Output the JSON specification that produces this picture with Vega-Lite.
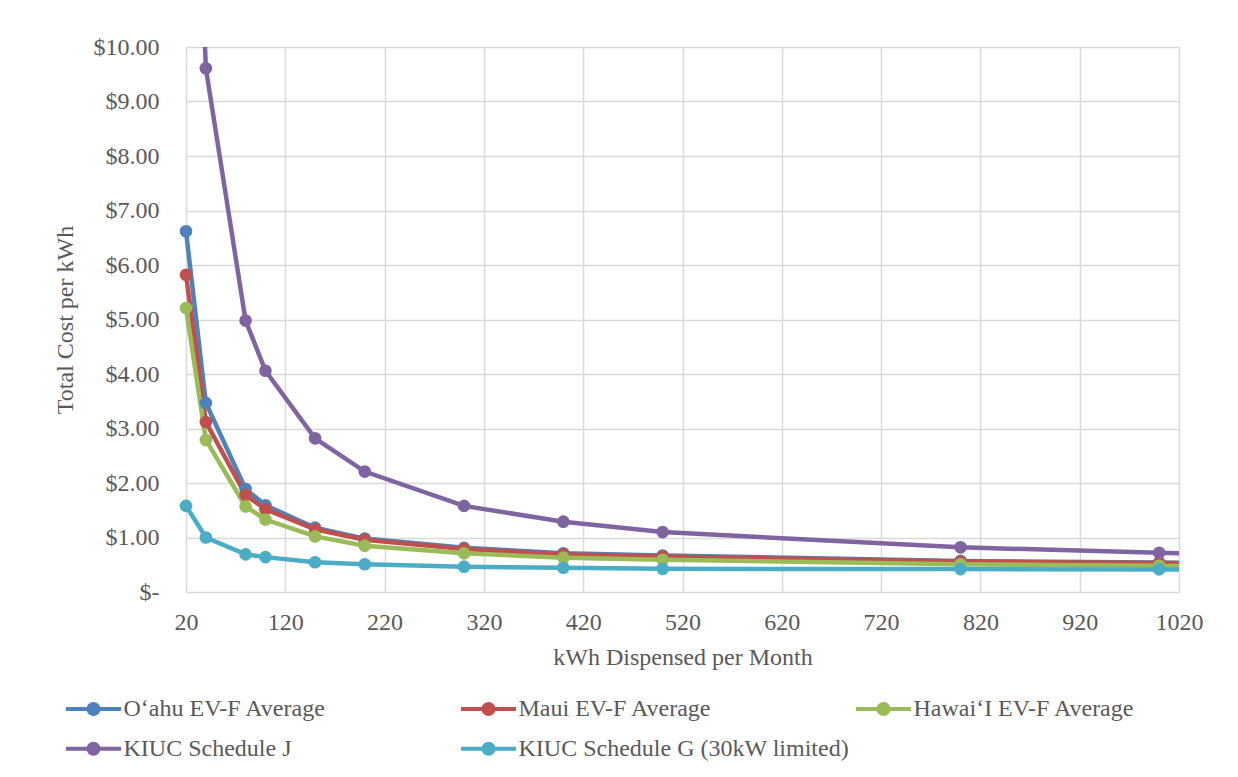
{
  "$schema": "https://vega.github.io/schema/vega-lite/v6.json",
  "width": 993,
  "height": 545,
  "autosize": "none",
  "padding": {"left": 186, "top": 47, "right": 59, "bottom": 185},
  "background": "white",
  "config": {
    "font": "Liberation Serif",
    "view": {"stroke": null},
    "axis": {
      "grid": true,
      "gridColor": "#D9D9D9",
      "gridWidth": 1.5,
      "domain": false,
      "ticks": false,
      "labelFontSize": 24,
      "labelColor": "#595959",
      "titleFontSize": 24,
      "titleColor": "#595959",
      "titleFontWeight": "normal",
      "labelFont": "Liberation Serif",
      "titleFont": "Liberation Serif"
    },
    "legend": {"labelFont": "Liberation Serif"}
  },
  "data": {
    "values": [
      {"series": "O‘ahu EV-F Average", "kwh": 20, "cost": 6.62},
      {"series": "O‘ahu EV-F Average", "kwh": 40, "cost": 3.47},
      {"series": "O‘ahu EV-F Average", "kwh": 80, "cost": 1.89},
      {"series": "O‘ahu EV-F Average", "kwh": 100, "cost": 1.59},
      {"series": "O‘ahu EV-F Average", "kwh": 150, "cost": 1.18},
      {"series": "O‘ahu EV-F Average", "kwh": 200, "cost": 0.98},
      {"series": "O‘ahu EV-F Average", "kwh": 300, "cost": 0.81},
      {"series": "O‘ahu EV-F Average", "kwh": 400, "cost": 0.71},
      {"series": "O‘ahu EV-F Average", "kwh": 500, "cost": 0.67},
      {"series": "O‘ahu EV-F Average", "kwh": 800, "cost": 0.57},
      {"series": "O‘ahu EV-F Average", "kwh": 1000, "cost": 0.54},
      {"series": "O‘ahu EV-F Average", "kwh": 1200, "cost": 0.52},
      {"series": "Maui EV-F Average", "kwh": 20, "cost": 5.82},
      {"series": "Maui EV-F Average", "kwh": 40, "cost": 3.12},
      {"series": "Maui EV-F Average", "kwh": 80, "cost": 1.78},
      {"series": "Maui EV-F Average", "kwh": 100, "cost": 1.52},
      {"series": "Maui EV-F Average", "kwh": 150, "cost": 1.15},
      {"series": "Maui EV-F Average", "kwh": 200, "cost": 0.96},
      {"series": "Maui EV-F Average", "kwh": 300, "cost": 0.79},
      {"series": "Maui EV-F Average", "kwh": 400, "cost": 0.69},
      {"series": "Maui EV-F Average", "kwh": 500, "cost": 0.65},
      {"series": "Maui EV-F Average", "kwh": 800, "cost": 0.56},
      {"series": "Maui EV-F Average", "kwh": 1000, "cost": 0.53},
      {"series": "Maui EV-F Average", "kwh": 1200, "cost": 0.51},
      {"series": "Hawai‘I EV-F Average", "kwh": 20, "cost": 5.21},
      {"series": "Hawai‘I EV-F Average", "kwh": 40, "cost": 2.79},
      {"series": "Hawai‘I EV-F Average", "kwh": 80, "cost": 1.57},
      {"series": "Hawai‘I EV-F Average", "kwh": 100, "cost": 1.33},
      {"series": "Hawai‘I EV-F Average", "kwh": 150, "cost": 1.02},
      {"series": "Hawai‘I EV-F Average", "kwh": 200, "cost": 0.85},
      {"series": "Hawai‘I EV-F Average", "kwh": 300, "cost": 0.71},
      {"series": "Hawai‘I EV-F Average", "kwh": 400, "cost": 0.63},
      {"series": "Hawai‘I EV-F Average", "kwh": 500, "cost": 0.59},
      {"series": "Hawai‘I EV-F Average", "kwh": 800, "cost": 0.51},
      {"series": "Hawai‘I EV-F Average", "kwh": 1000, "cost": 0.48},
      {"series": "Hawai‘I EV-F Average", "kwh": 1200, "cost": 0.46},
      {"series": "KIUC Schedule J", "kwh": 20, "cost": 18.9},
      {"series": "KIUC Schedule J", "kwh": 40, "cost": 9.61},
      {"series": "KIUC Schedule J", "kwh": 80, "cost": 4.98},
      {"series": "KIUC Schedule J", "kwh": 100, "cost": 4.06},
      {"series": "KIUC Schedule J", "kwh": 150, "cost": 2.82},
      {"series": "KIUC Schedule J", "kwh": 200, "cost": 2.21},
      {"series": "KIUC Schedule J", "kwh": 300, "cost": 1.58},
      {"series": "KIUC Schedule J", "kwh": 400, "cost": 1.29},
      {"series": "KIUC Schedule J", "kwh": 500, "cost": 1.1},
      {"series": "KIUC Schedule J", "kwh": 800, "cost": 0.82},
      {"series": "KIUC Schedule J", "kwh": 1000, "cost": 0.72},
      {"series": "KIUC Schedule J", "kwh": 1200, "cost": 0.64},
      {"series": "KIUC Schedule G (30kW limited)", "kwh": 20, "cost": 1.58},
      {"series": "KIUC Schedule G (30kW limited)", "kwh": 40, "cost": 1.0},
      {"series": "KIUC Schedule G (30kW limited)", "kwh": 80, "cost": 0.69},
      {"series": "KIUC Schedule G (30kW limited)", "kwh": 100, "cost": 0.64},
      {"series": "KIUC Schedule G (30kW limited)", "kwh": 150, "cost": 0.545},
      {"series": "KIUC Schedule G (30kW limited)", "kwh": 200, "cost": 0.51},
      {"series": "KIUC Schedule G (30kW limited)", "kwh": 300, "cost": 0.465},
      {"series": "KIUC Schedule G (30kW limited)", "kwh": 400, "cost": 0.445},
      {"series": "KIUC Schedule G (30kW limited)", "kwh": 500, "cost": 0.425},
      {"series": "KIUC Schedule G (30kW limited)", "kwh": 800, "cost": 0.42},
      {"series": "KIUC Schedule G (30kW limited)", "kwh": 1000, "cost": 0.415},
      {"series": "KIUC Schedule G (30kW limited)", "kwh": 1200, "cost": 0.41}
    ]
  },
  "encoding": {
    "x": {
      "field": "kwh",
      "type": "quantitative",
      "scale": {"domain": [20, 1020], "nice": false, "zero": false},
      "axis": {
        "values": [20, 120, 220, 320, 420, 520, 620, 720, 820, 920, 1020],
        "format": "d",
        "title": "kWh Dispensed per Month",
        "labelFont": "Liberation Serif",
        "titleFont": "Liberation Serif",
        "labelFlush": false,
        "labelOverlap": false,
        "labelBaseline": "middle",
        "labelPadding": 30,
        "titleY": 65,
        "titleBaseline": "middle"
      }
    },
    "y": {
      "field": "cost",
      "type": "quantitative",
      "scale": {"domain": [0, 10], "nice": false},
      "axis": {
        "values": [0, 1, 2, 3, 4, 5, 6, 7, 8, 9, 10],
        "labelExpr": "datum.value == 0 ? '$-\u00a0\u00a0' : '$' + format(datum.value, '.2f')",
        "labelFont": "Liberation Serif",
        "titleFont": "Liberation Serif",
        "labelPadding": 27,
        "labelOverlap": false,
        "title": "Total Cost per kWh",
        "titleX": -121,
        "titleY": 272.5,
        "titleAngle": -90,
        "titleAlign": "center",
        "titleBaseline": "middle"
      }
    },
    "color": {
      "field": "series",
      "type": "nominal",
      "scale": {
        "domain": ["O‘ahu EV-F Average", "Maui EV-F Average", "Hawai‘I EV-F Average", "KIUC Schedule J", "KIUC Schedule G (30kW limited)"],
        "range": ["#4F81BD", "#C0504D", "#9BBB59", "#8064A2", "#4BACC6"]
      },
      "legend": {
        "title": null,
        "orient": "none",
        "legendX": -120,
        "legendY": 650,
        "direction": "horizontal",
        "columns": 3,
        "gridAlign": "all",
        "columnPadding": -3,
        "rowPadding": 13.7,
        "padding": 0,
        "labelFont": "Liberation Serif",
        "labelFontSize": 24,
        "labelColor": "#595959",
        "labelLimit": 600,
        "symbolType": "M-3.44,0L3.44,0M-0.625,0A0.625,0.625,0,1,1,0.625,0A0.625,0.625,0,1,1,-0.625,0Z",
        "symbolSize": 256,
        "symbolStrokeWidth": 4,
        "symbolOffset": 15.5,
        "labelOffset": 18,
        "encode": {
          "symbols": {
            "update": {
              "fill": {"scale": "color", "field": "value"},
              "stroke": {"scale": "color", "field": "value"},
              "opacity": {"value": 1}
            }
          }
        }
      }
    }
  },
  "layer": [
    {
      "transform": [{"filter": "datum.series != 'KIUC Schedule J' && datum.kwh <= 1000"}],
      "mark": {"type": "line", "strokeWidth": 4.5, "clip": false}
    },
    {
      "transform": [{"filter": "datum.series != 'KIUC Schedule J' && datum.kwh >= 1000"}],
      "mark": {"type": "line", "strokeWidth": 4.5, "clip": true}
    },
    {
      "transform": [{"filter": "datum.series == 'KIUC Schedule J'"}],
      "mark": {"type": "line", "strokeWidth": 4.5, "clip": true}
    },
    {
      "transform": [{"filter": "datum.kwh <= 1000 && datum.cost <= 10"}],
      "mark": {"type": "circle", "size": 160, "opacity": 1, "clip": false}
    }
  ]
}
